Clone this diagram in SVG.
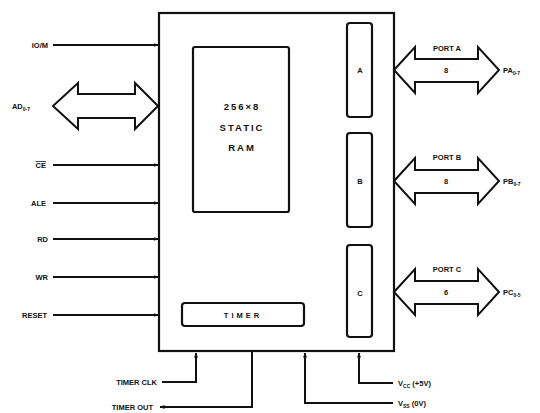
<svg xmlns="http://www.w3.org/2000/svg" width="540" height="413" viewBox="0 0 540 413">
<style>
.ln{stroke:#111;stroke-width:2;fill:none}
.bx{stroke:#111;stroke-width:2.2;fill:none}
.bus{stroke:#111;stroke-width:2;fill:#fff;stroke-linejoin:miter}
.t{font-family:"Liberation Sans",Arial,sans-serif;font-weight:bold;font-size:7.5px;fill:#111}
.tr{text-anchor:end}
.tm{text-anchor:middle}
.big{font-size:9.5px;letter-spacing:2px}
</style>
<defs>
<marker id="ah" viewBox="0 0 10 10" refX="9" refY="5" markerWidth="5" markerHeight="5" orient="auto" markerUnits="userSpaceOnUse">
<path d="M0,1 L10,5 L0,9 z" fill="#111"/>
</marker>
</defs>
<rect width="540" height="413" fill="#fff"/>

<g id="chip">
<rect class="bx" x="159" y="13" width="235" height="338"/>
</g>
<g id="ram">
<rect class="bx" x="193" y="47" width="96" height="165" rx="2"/>
<text class="t tm big" x="242" y="110">256×8</text>
<text class="t tm big" x="242" y="131">STATIC</text>
<text class="t tm big" x="242" y="151">RAM</text>
</g>
<g id="portA">
<rect class="bx" x="347" y="23" width="25" height="94" rx="3"/>
<text class="t tm" x="360" y="73">A</text>
</g>
<g id="portB">
<rect class="bx" x="347" y="133" width="25" height="94" rx="3"/>
<text class="t tm" x="360" y="184">B</text>
</g>
<g id="portC">
<rect class="bx" x="347" y="245" width="25" height="92" rx="3"/>
<text class="t tm" x="360" y="296">C</text>
</g>
<g id="timer">
<rect class="bx" x="182" y="303" width="122" height="23" rx="3"/>
<text class="t tm" x="243" y="318" style="letter-spacing:3px">TIMER</text>
</g>

<g id="connectors">
<line class="ln" x1="53" y1="45" x2="158" y2="45" marker-end="url(#ah)"/>
<line class="ln" x1="53" y1="165" x2="158" y2="165" marker-end="url(#ah)"/>
<line class="ln" x1="53" y1="203" x2="158" y2="203" marker-end="url(#ah)"/>
<line class="ln" x1="53" y1="239" x2="158" y2="239" marker-end="url(#ah)"/>
<line class="ln" x1="53" y1="277" x2="158" y2="277" marker-end="url(#ah)"/>
<line class="ln" x1="53" y1="315" x2="158" y2="315" marker-end="url(#ah)"/>
<path class="bus" d="M53,106 L78,83 L78,94 L135,94 L135,83 L158,106 L135,129 L135,118 L78,118 L78,129 Z"/>
<path class="bus" d="M394,70 L415,47 L415,59 L478,59 L478,47 L499,70 L478,93 L478,82 L415,82 L415,93 Z"/>
<path class="bus" d="M394,181 L415,158 L415,170 L478,170 L478,158 L499,181 L478,204 L478,193 L415,193 L415,204 Z"/>
<path class="bus" d="M394,292 L415,269 L415,281 L478,281 L478,269 L499,292 L478,315 L478,304 L415,304 L415,315 Z"/>
<polyline class="ln" points="162,382 196,382 196,353" marker-end="url(#ah)"/>
<polyline class="ln" points="252,351 252,407 160,407" marker-end="url(#ah)"/>
<polyline class="ln" points="393,383 359,383 359,353" marker-end="url(#ah)"/>
<polyline class="ln" points="393,403 305,403 305,353" marker-end="url(#ah)"/>
</g>

<g id="labels">
<text class="t tr" x="48" y="48">IO/M</text>
<text class="t tr" x="30" y="109">AD<tspan font-size="5" dy="2">0-7</tspan></text>
<text class="t tr" x="46" y="168" text-decoration="overline">CE</text>
<text class="t tr" x="46" y="206">ALE</text>
<text class="t tr" x="48" y="242">RD</text>
<text class="t tr" x="48" y="280">WR</text>
<text class="t tr" x="47" y="318">RESET</text>
<text class="t tr" x="157" y="385">TIMER CLK</text>
<text class="t tr" x="153" y="410">TIMER OUT</text>
<text class="t" x="398" y="386">V<tspan font-size="5" dy="2">CC</tspan><tspan dy="-2"> (+5V)</tspan></text>
<text class="t" x="398" y="406">V<tspan font-size="5" dy="2">SS</tspan><tspan dy="-2"> (0V)</tspan></text>
<text class="t tm" x="447" y="51">PORT A</text>
<text class="t tm" x="446" y="73">8</text>
<text class="t" x="503" y="73">PA<tspan font-size="5" dy="2">0-7</tspan></text>
<text class="t tm" x="447" y="160">PORT B</text>
<text class="t tm" x="446" y="184">8</text>
<text class="t" x="503" y="184">PB<tspan font-size="5" dy="2">0-7</tspan></text>
<text class="t tm" x="447" y="272">PORT C</text>
<text class="t tm" x="446" y="295">6</text>
<text class="t" x="503" y="295">PC<tspan font-size="5" dy="2">0-5</tspan></text>
</g>
</svg>
